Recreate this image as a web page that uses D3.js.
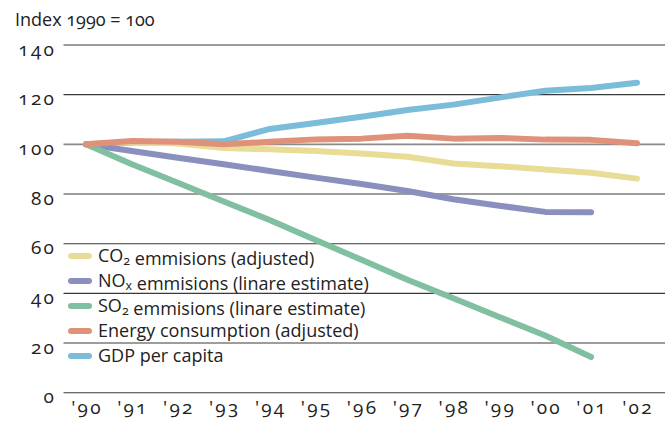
<!DOCTYPE html>
<html>
<head>
<meta charset="utf-8">
<script src="https://cdn.jsdelivr.net/npm/d3@7"></script>
<style>
  html, body { margin: 0; padding: 0; background: #fff; }
  svg { display: block; }
  text { font-family: "Open Sans", Lato, sans-serif; fill: #222; font-variant-numeric: oldstyle-nums; font-feature-settings: "onum" 1; }
  .num { letter-spacing: 2.2px; }
</style>
</head>
<body>
<svg id="chart" width="665" height="421"></svg>
<script>
const years = ["'90","'91","'92","'93","'94","'95","'96","'97","'98","'99","'00","'01","'02"];
const yTicks = [0, 20, 40, 60, 80, 100, 120, 140];
const titleText = "Index 1990 = 100";

const co2    = [100, 101, 100.3, 98.5, 98, 97.3, 96.3, 95, 92.3, 91.2, 89.9, 88.6, 86.2];
const nox    = [100, 97.3, 94.6, 92, 89.3, 86.6, 84, 81.2, 77.9, 75.3, 72.8, 72.7];
const so2    = [100, 92, 84.5, 77, 69.5, 61.5, 53.5, 45.5, 38, 30.5, 23, 14.4];
const energy = [100, 101.3, 101, 100, 101, 102, 102.3, 103.5, 102.3, 102.6, 101.9, 101.8, 100.4];
const gdp    = [100, 100.8, 101, 101.2, 106.2, 108.6, 111.1, 113.8, 116, 118.8, 121.6, 122.7, 124.8];

const seriesNames = [
  [["CO", null], ["2", "sub"], [" emmisions (adjusted)", null]],
  [["NO", null], ["x", "sub"], [" emmisions (linare estimate)", null]],
  [["SO", null], ["2", "sub"], [" emmisions (linare estimate)", null]],
  [["Energy consumption (adjusted)", null]],
  [["GDP per capita", null]]
];
const seriesValues = [co2, nox, so2, energy, gdp];
const seriesColors = ["#e8dc96", "#8b8fbd", "#80bf9f", "#e0917a", "#7bbcd8"];
const drawOrder = [4, 0, 1, 2, 3];

const svg = d3.select("#chart");

const x = d3.scaleLinear().domain([0, years.length - 1]).range([86, 637]);
const y = d3.scaleLinear().domain([0, 140]).range([392.7, 45]);

// title
svg.append("text").attr("x", 15).attr("y", 26).attr("font-size", 18).text(titleText);

// gridlines
svg.append("g").selectAll("line").data(yTicks).join("line")
  .attr("x1", 63.5).attr("x2", 665)
  .attr("y1", d => y(d)).attr("y2", d => y(d))
  .attr("stroke", d => d === 100 ? "#8a8a8a" : "#3a3a3a")
  .attr("stroke-width", d => d === 100 ? 1.6 : 1.1);

// y labels
svg.append("g").selectAll("text").data(yTicks).join("text")
  .attr("class", "num")
  .attr("x", 56).attr("y", d => y(d) + 10.5)
  .attr("text-anchor", "end").attr("font-size", 19)
  .text(d => d);

// x labels
svg.append("g").selectAll("text").data(years).join("text")
  .attr("class", "num")
  .attr("x", (d, i) => x(i) + 1).attr("y", 414)
  .attr("text-anchor", "middle").attr("font-size", 19)
  .text(d => d);

// lines
const line = d3.line().x((d, i) => x(i)).y(d => y(d));
svg.append("g").selectAll("path").data(drawOrder).join("path")
  .attr("d", k => line(seriesValues[k]))
  .attr("fill", "none")
  .attr("stroke", k => seriesColors[k])
  .attr("stroke-width", 6)
  .attr("stroke-linecap", "round")
  .attr("stroke-linejoin", "round");

// legend
const lg = svg.append("g");
seriesNames.forEach((parts, i) => {
  const cy = 256 + i * 25;
  lg.append("line")
    .attr("x1", 71).attr("x2", 89).attr("y1", cy).attr("y2", cy)
    .attr("stroke", seriesColors[i]).attr("stroke-width", 6).attr("stroke-linecap", "round");
  const t = lg.append("text").attr("x", 98).attr("y", cy + 6).attr("font-size", 18);
  parts.forEach(([s, kind]) => {
    if (kind === "sub") {
      t.append("tspan").attr("font-size", 12.5).attr("dy", 3).text(s);
      t.append("tspan").attr("dy", -3).text("");
    } else {
      t.append("tspan").text(s);
    }
  });
});
</script>
</body>
</html>
